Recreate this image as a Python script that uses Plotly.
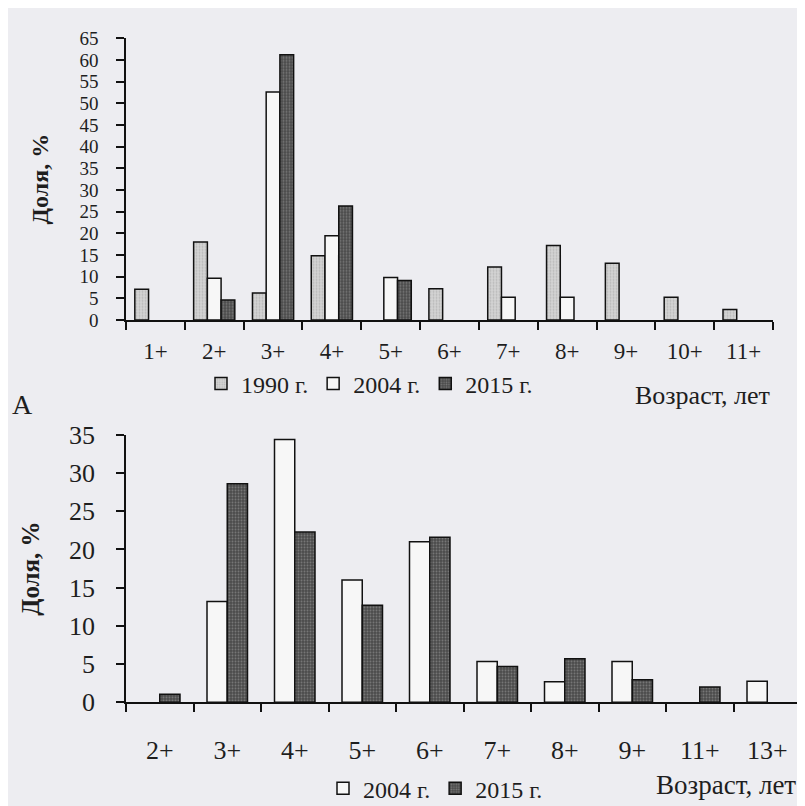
import plotly.graph_objects as go

# --- Top chart (1990, 2004, 2015) ---
ages_top = ["1+", "2+", "3+", "4+", "5+", "6+", "7+", "8+", "9+", "10+", "11+"]
top_1990 = [7.1, 18.0, 6.2, 14.8, 0, 7.2, 12.2, 17.2, 13.1, 5.2, 2.4]
top_2004 = [0, 9.6, 52.6, 19.4, 9.8, 0, 5.2, 5.2, 0, 0, 0]
top_2015 = [0, 4.6, 61.2, 26.3, 9.1, 0, 0, 0, 0, 0, 0]
top_yticks = list(range(0, 70, 5))

# --- Bottom chart (2004, 2015) ---
ages_bot = ["2+", "3+", "4+", "5+", "6+", "7+", "8+", "9+", "11+", "13+"]
bot_2004 = [0, 13.2, 34.4, 16.0, 21.0, 5.35, 2.7, 5.35, 0, 2.75]
bot_2015 = [1.06, 28.6, 22.3, 12.7, 21.6, 4.7, 5.7, 2.95, 2.0, 0]
bot_yticks = list(range(0, 40, 5))

W, H = 805, 806
FONT = "Liberation Serif"
BG = "#ededf1"
INK = "#1e1e1e"

def px(x):
    return x / W

def py(y):
    return 1 - y / H

def nz(v):
    return [None if a == 0 else a for a in v]

style_1990 = dict(color="#cbcbcb", line=dict(color="#111", width=1.5),
                  pattern=dict(shape=".", fgcolor="#9a9a9a", bgcolor="#d4d4d4", size=3, solidity=0.3))
style_2004 = dict(color="#f7f7f7", line=dict(color="#111", width=1.5))
style_2015 = dict(color="#555", line=dict(color="#111", width=1.5),
                  pattern=dict(shape=".", fgcolor="#a8a8a8", bgcolor="#4a4a4a", size=3, solidity=0.35))

BW_BOT = 0.30  # bottom bar width in category units

fig = go.Figure()
fig.add_trace(go.Bar(x=ages_top, y=nz(top_1990), name="1990 г.", marker=style_1990,
                     xaxis="x", yaxis="y", legend="legend"))
fig.add_trace(go.Bar(x=ages_top, y=nz(top_2004), name="2004 г.", marker=style_2004,
                     xaxis="x", yaxis="y", legend="legend"))
fig.add_trace(go.Bar(x=ages_top, y=nz(top_2015), name="2015 г.", marker=style_2015,
                     xaxis="x", yaxis="y", legend="legend"))
fig.add_trace(go.Bar(x=ages_bot, y=nz(bot_2004), name="2004 г.", marker=style_2004,
                     xaxis="x2", yaxis="y2", legend="legend2",
                     width=BW_BOT, offset=-BW_BOT))
fig.add_trace(go.Bar(x=ages_bot, y=nz(bot_2015), name="2015 г.", marker=style_2015,
                     xaxis="x2", yaxis="y2", legend="legend2",
                     width=BW_BOT, offset=0))

axis_common = dict(showline=True, linecolor="#111", linewidth=1.5, ticks="outside",
                   tickcolor="#111", ticklen=8, tickwidth=1.5, showgrid=False, zeroline=False,
                   tickfont=dict(family=FONT, size=23, color=INK))

fig.update_layout(
    width=W, height=H,
    margin=dict(l=0, r=0, t=0, b=0),
    paper_bgcolor=BG, plot_bgcolor=BG,
    barmode="group",
    bargap=0.3, bargroupgap=0,
    font=dict(family=FONT, color=INK),
    xaxis=dict(axis_common, domain=[px(118), px(765)], anchor="y", type="category",
               tickson="boundaries", range=[-0.5, 10.5], ticklabelstandoff=10,
               tickfont=dict(family=FONT, size=23, color=INK)),
    yaxis=dict(axis_common, domain=[py(309), py(17)], anchor="x", range=[0, 65],
               tickvals=top_yticks, ticklabelstandoff=14,
               tickfont=dict(family=FONT, size=19, color=INK),
               title=dict(text="<b>Доля, %</b>", font=dict(family=FONT, size=24, color=INK), standoff=24)),
    xaxis2=dict(axis_common, domain=[px(118), px(793)], anchor="y2", type="category",
                tickson="boundaries", range=[-0.5, 9.5], ticklabelstandoff=24,
                tickfont=dict(family=FONT, size=26, color=INK)),
    yaxis2=dict(axis_common, domain=[py(705.7), py(428.3)], anchor="x2", range=[0, 35],
                tickvals=bot_yticks, ticklabelstandoff=16,
                tickfont=dict(family=FONT, size=26, color=INK),
                title=dict(text="<b>Доля, %</b>", font=dict(family=FONT, size=25, color=INK), standoff=22)),
    legend=dict(orientation="h", x=px(193), y=py(352), xanchor="left", yanchor="top",
                bgcolor="rgba(0,0,0,0)", font=dict(family=FONT, size=24, color=INK),
                itemwidth=30, traceorder="normal"),
    legend2=dict(orientation="h", x=px(315), y=py(772), xanchor="left", yanchor="top",
                 bgcolor="rgba(0,0,0,0)", font=dict(family=FONT, size=24, color=INK),
                 itemwidth=30, traceorder="normal"),
    showlegend=True,
)

# Text labels
fig.add_annotation(text="Возраст, лет", x=px(764), y=py(370), xref="paper", yref="paper",
                   xanchor="right", yanchor="top", showarrow=False,
                   font=dict(family=FONT, size=26, color=INK))
fig.add_annotation(text="Возраст, лет", x=px(790), y=py(809), xref="paper", yref="paper",
                   xanchor="right", yanchor="bottom", showarrow=False,
                   font=dict(family=FONT, size=27, color=INK))
fig.add_annotation(text="А", x=px(2), y=py(397), xref="paper", yref="paper",
                   xanchor="left", yanchor="middle", showarrow=False,
                   font=dict(family=FONT, size=28, color=INK))

fig.write_html("out.html")
